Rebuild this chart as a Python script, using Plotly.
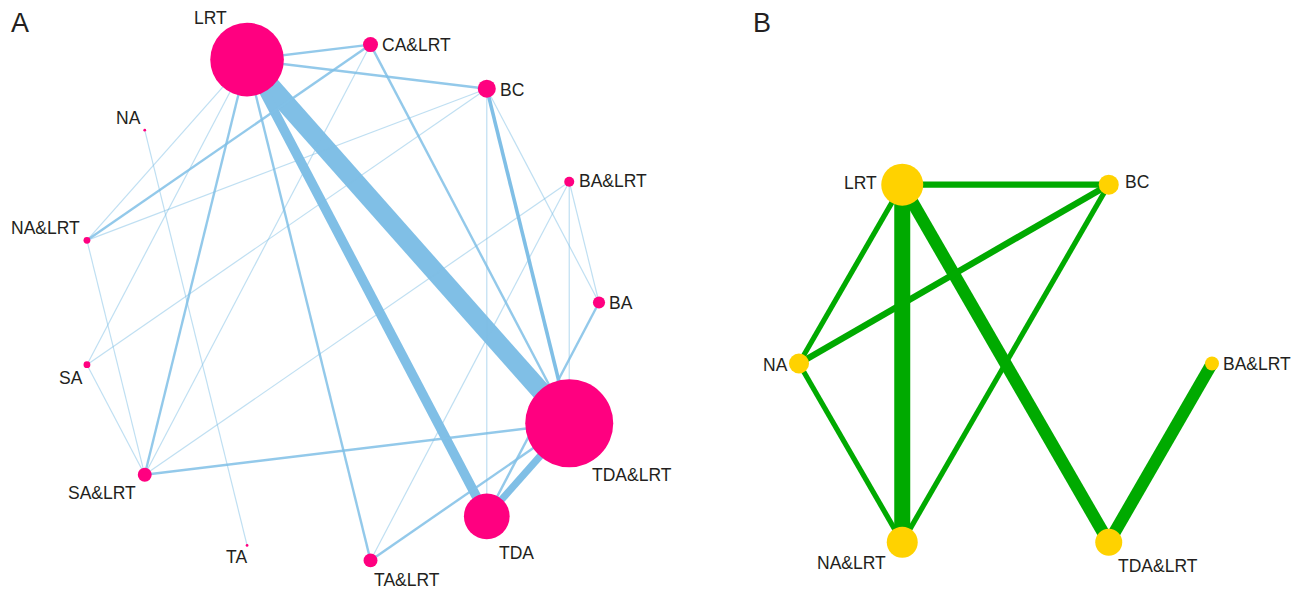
import math
import plotly.graph_objects as go

# ---------------- Panel A: full treatment network ----------------
# Treatments in alphabetical order; they are laid out counter-clockwise on a circle
a_nodes = ["BA", "BA&LRT", "BC", "CA&LRT", "LRT", "NA", "NA&LRT",
           "SA", "SA&LRT", "TA", "TA&LRT", "TDA", "TDA&LRT"]
# patients per treatment (node area)
a_patients = [19, 13, 42, 29, 700, 1, 6, 6, 25, 1, 25, 270, 1000]
# direct comparisons: (treatment 1, treatment 2, number of studies)
a_edges = [
    ("LRT", "TDA&LRT", 16),
    ("LRT", "TDA", 8),
    ("TDA", "TDA&LRT", 6),
    ("BC", "TDA&LRT", 3),
    ("LRT", "TA&LRT", 2),
    ("LRT", "SA&LRT", 2),
    ("LRT", "CA&LRT", 2),
    ("LRT", "BC", 2),
    ("CA&LRT", "TDA&LRT", 2),
    ("CA&LRT", "NA&LRT", 2),
    ("BA", "TDA", 2),
    ("SA&LRT", "TDA&LRT", 2),
    ("TA&LRT", "TDA&LRT", 2),
    ("LRT", "NA&LRT", 1),
    ("LRT", "SA", 1),
    ("BC", "TDA", 1),
    ("BC", "BA", 1),
    ("BC", "NA&LRT", 1),
    ("BC", "SA", 1),
    ("CA&LRT", "SA&LRT", 1),
    ("BA&LRT", "TDA&LRT", 1),
    ("BA&LRT", "BA", 1),
    ("BA&LRT", "SA&LRT", 1),
    ("BA&LRT", "TA&LRT", 1),
    ("SA&LRT", "SA", 1),
    ("SA&LRT", "NA&LRT", 1),
    ("NA", "TA", 1),
]

# ---------------- Panel B: sub-network ----------------
b_nodes = ["BA&LRT", "BC", "LRT", "NA", "NA&LRT", "TDA&LRT"]
b_patients = [44, 91, 400, 91, 218, 165]
b_edges = [
    ("LRT", "NA&LRT", 10),
    ("LRT", "TDA&LRT", 7),
    ("BA&LRT", "TDA&LRT", 7),
    ("LRT", "BC", 2),
    ("NA", "BC", 2),
    ("LRT", "NA", 1),
    ("NA", "NA&LRT", 1),
    ("BC", "NA&LRT", 1),
]

W, H = 1301, 590
TEXT = "#231f20"
FONT = "Liberation Sans, Arial, Helvetica, sans-serif"


def circle_layout(names, cx, cy, r):
    n = len(names)
    pos = {}
    for k, name in enumerate(names):
        ang = 2 * math.pi * k / n
        pos[name] = (cx + r * math.cos(ang), cy - r * math.sin(ang))
    return pos


pos_a = circle_layout(a_nodes, 339.2, 302.5, 259.8)
pos_b = circle_layout(b_nodes, 1005.5, 363.5, 206.5)

fig = go.Figure()


def alpha_for(n):
    if n >= 3:
        return 1.0
    if n == 2:
        return 0.85
    return 0.5


# edges of panel A
for t1, t2, n in a_edges:
    (x1, y1), (x2, y2) = pos_a[t1], pos_a[t2]
    fig.add_trace(go.Scatter(
        x=[x1, x2], y=[y1, y2], mode="lines",
        line=dict(color=f"rgba(128,191,230,{alpha_for(n)})", width=1.2 * n),
        hoverinfo="skip", showlegend=False))

# edges of panel B
for t1, t2, n in b_edges:
    (x1, y1), (x2, y2) = pos_b[t1], pos_b[t2]
    fig.add_trace(go.Scatter(
        x=[x1, x2], y=[y1, y2], mode="lines",
        line=dict(color="#00aa00", width=4.0 + 1.2 * n),
        hoverinfo="skip", showlegend=False))

# nodes
fig.add_trace(go.Scatter(
    x=[pos_a[t][0] for t in a_nodes], y=[pos_a[t][1] for t in a_nodes],
    mode="markers", text=a_nodes, hoverinfo="text",
    marker=dict(size=[2.783 * math.sqrt(p) for p in a_patients],
                color="#ff0080", line=dict(width=0), opacity=1),
    showlegend=False))
fig.add_trace(go.Scatter(
    x=[pos_b[t][0] for t in b_nodes], y=[pos_b[t][1] for t in b_nodes],
    mode="markers", text=b_nodes, hoverinfo="text",
    marker=dict(size=[2.1 * math.sqrt(p) for p in b_patients],
                color="#ffd200", line=dict(width=0), opacity=1),
    showlegend=False))

# label offsets from node centre
a_label_offset = {
    "LRT": (-37, -42), "CA&LRT": (45.5, 0.5), "BC": (25, 1), "BA&LRT": (43.5, -1),
    "BA": (22, 0), "TDA&LRT": (63, 52), "TDA": (30, 37), "TA&LRT": (36, 20),
    "TA": (-11, 12), "SA&LRT": (-43, 18), "SA": (-16, 13), "NA&LRT": (-41, -12),
    "NA": (-16, -12),
}
b_label_offset = {
    "LRT": (-42, -2), "BC": (28, -3), "NA": (-24, 1), "BA&LRT": (45, 0),
    "NA&LRT": (-51, 21), "TDA&LRT": (49, 24),
}

annotations = []
for pos, offs in ((pos_a, a_label_offset), (pos_b, b_label_offset)):
    for name, (dx, dy) in offs.items():
        x, y = pos[name]
        annotations.append(dict(
            x=x + dx, y=y + dy, text=name, showarrow=False,
            xanchor="center", yanchor="middle",
            font=dict(family=FONT, size=17.5, color=TEXT)))

for letter, x in (("A", 20), ("B", 762)):
    annotations.append(dict(
        x=x, y=23, text=letter, showarrow=False, xanchor="center", yanchor="middle",
        font=dict(family=FONT, size=27, color=TEXT)))

fig.update_layout(
    width=W, height=H,
    margin=dict(l=0, r=0, t=0, b=0),
    paper_bgcolor="white", plot_bgcolor="white",
    xaxis=dict(range=[0, W], visible=False, fixedrange=True),
    yaxis=dict(range=[H, 0], visible=False, fixedrange=True),
    annotations=annotations,
    showlegend=False,
)

fig.write_html("out.html")
